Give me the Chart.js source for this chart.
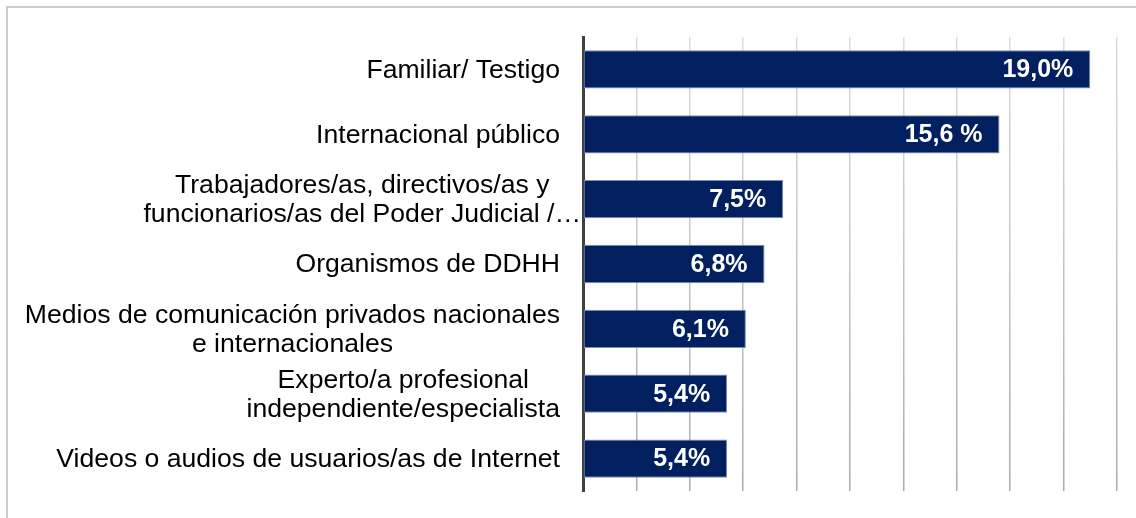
<!DOCTYPE html>
<html lang="es">
<head>
<meta charset="utf-8">
<title>Fuentes</title>
<script src="https://cdn.jsdelivr.net/npm/chart.js@4/dist/chart.umd.min.js"></script>
<style>
  html, body { margin: 0; padding: 0; background: #fff; overflow: hidden; }
  #wrap { position: relative; width: 1136px; height: 518px; }
  #frame {
    position: absolute; left: 6px; top: 6px; width: 1200px; height: 600px;
    border-left: 2px solid #cdcdcd; border-top: 2px solid #cdcdcd;
  }
  canvas { position: absolute; left: 0; top: 0; }
</style>
</head>
<body>
<div id="wrap">
  <div id="frame"></div>
  <canvas id="chart" width="1136" height="518"></canvas>
</div>
<script>
// categorias (una linea por elemento del array interno)
const categorias = [
  ["Familiar/ Testigo"],
  ["Internacional público"],
  ["Trabajadores/as, directivos/as y", "funcionarios/as del Poder Judicial /…"],
  ["Organismos de DDHH"],
  ["Medios de comunicación privados nacionales", "e internacionales"],
  ["Experto/a profesional", "independiente/especialista"],
  ["Videos o audios de usuarios/as de Internet"]
];
const porcentajes = [19.0, 15.6, 7.5, 6.8, 6.1, 5.4, 5.4];
const etiquetas = ["19,0%", "15,6 %", "7,5%", "6,8%", "6,1%", "5,4%", "5,4%"];

const azul = "#022060";
const fuente = "'Liberation Sans', Arial, sans-serif";

// nombres de categoria: bloque alineado a la derecha, lineas centradas entre si
const nombresPlugin = {
  id: "nombres",
  afterDraw(chart) {
    const ctx = chart.ctx;
    const y = chart.scales.y;
    const alto = 29;
    ctx.save();
    ctx.font = "26.6px " + fuente;
    ctx.fillStyle = "#000";
    ctx.textAlign = "center";
    ctx.textBaseline = "middle";
    categorias.forEach((lineas, i) => {
      const cy = y.getPixelForValue(i);
      // el texto recortado con "…" se sale un poco hacia el eje
      const recortado = lineas.some((l) => l.endsWith("…"));
      const derecha = recortado ? 581 : 560;
      let ancho = 0;
      lineas.forEach((l) => { ancho = Math.max(ancho, ctx.measureText(l).width); });
      const cx = derecha - ancho / 2;
      const inicio = cy - ((lineas.length - 1) * alto) / 2;
      lineas.forEach((l, j) => ctx.fillText(l, cx, inicio + j * alto + 1));
    });
    ctx.restore();
  }
};

// valores en blanco dentro del extremo de cada barra
const valoresPlugin = {
  id: "valores",
  afterDatasetsDraw(chart) {
    const ctx = chart.ctx;
    const meta = chart.getDatasetMeta(0);
    ctx.save();
    ctx.font = "bold 25px " + fuente;
    ctx.fillStyle = "#fff";
    ctx.textAlign = "right";
    ctx.textBaseline = "middle";
    meta.data.forEach((bar, i) => {
      ctx.fillText(etiquetas[i], bar.x - 17, bar.y + 1);
    });
    ctx.restore();
  }
};

new Chart(document.getElementById("chart"), {
  type: "bar",
  data: {
    labels: categorias,
    datasets: [{
      data: porcentajes,
      backgroundColor: azul,
      borderColor: "#7d8fb3",
      borderWidth: 1,
      borderSkipped: false,
      barPercentage: 0.59,
      categoryPercentage: 1
    }]
  },
  options: {
    indexAxis: "y",
    responsive: false,
    animation: false,
    layout: { padding: { left: 583, top: 37, right: 19, bottom: 27 } },
    plugins: { legend: { display: false }, tooltip: { enabled: false } },
    scales: {
      x: {
        min: 0,
        max: 20,
        ticks: { display: false, stepSize: 2 },
        border: { display: false },
        grid: {
          drawTicks: false,
          lineWidth: 1.5,
          color(c) {
            const area = c.chart.chartArea;
            if (!area) return "#c4c4c4";
            const g = c.chart.ctx.createLinearGradient(0, area.top, 0, area.bottom);
            g.addColorStop(0, "#dcdcdc");
            g.addColorStop(1, "#acacac");
            return g;
          }
        },
        afterFit(s) { s.height = 0; }
      },
      y: {
        ticks: { display: false },
        grid: { display: false },
        border: { display: true, color: "#404040", width: 3 },
        afterFit(s) { s.width = 0; }
      }
    }
  },
  plugins: [nombresPlugin, valoresPlugin]
});
</script>
</body>
</html>
